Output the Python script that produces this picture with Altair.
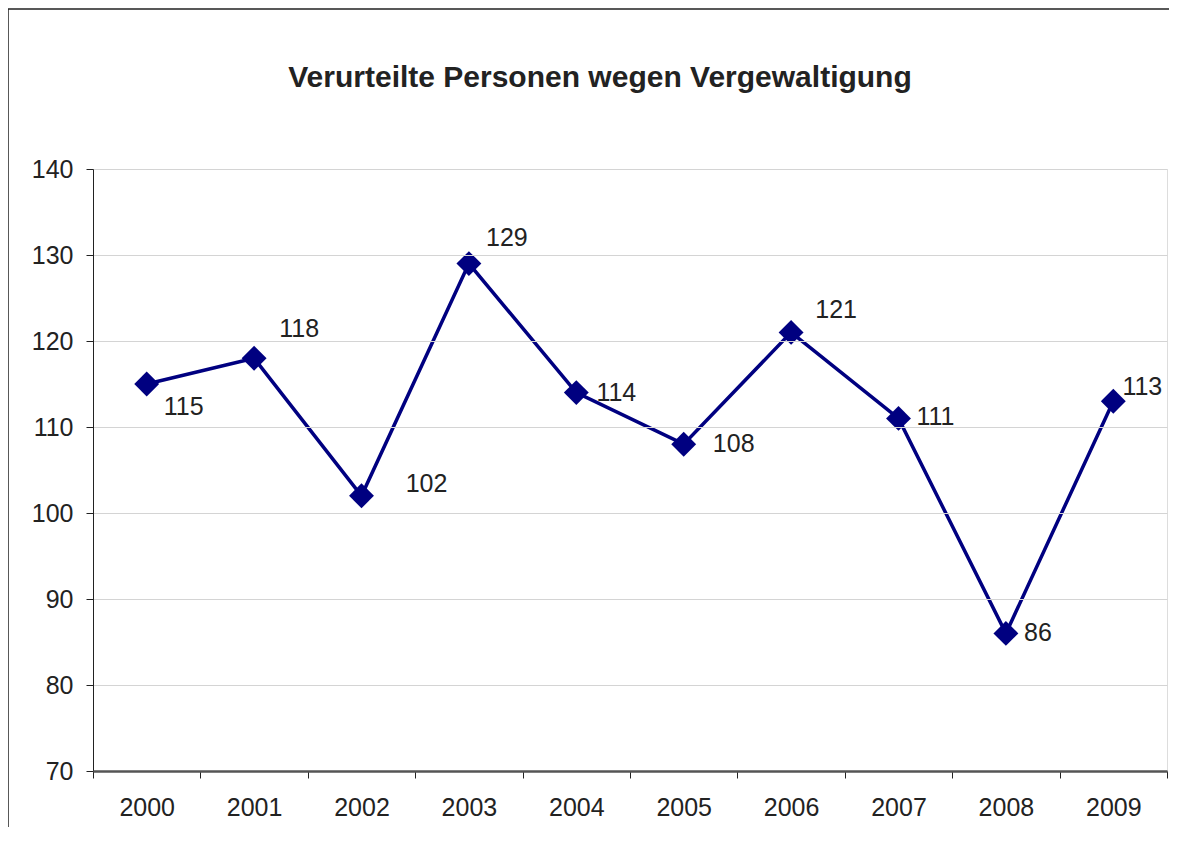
import altair as alt
import pandas as pd

years = ["2000", "2001", "2002", "2003", "2004", "2005", "2006", "2007", "2008", "2009"]
values = [115, 118, 102, 129, 114, 108, 121, 111, 86, 113]
y_ticks = [70, 80, 90, 100, 110, 120, 130, 140]

# label placement offsets (dx, dy) per year, in pixels
label_offsets = {
    "2000": (37, 23), "2001": (45, -29), "2002": (65, -12), "2003": (38, -26),
    "2004": (40, 0), "2005": (50, 0), "2006": (45, -22), "2007": (37, -1),
    "2008": (32, 0), "2009": (29, -14),
}

df = pd.DataFrame({"Jahr": years, "Wert": values})

W, H = 1074, 602
FONT = "Liberation Sans"
NAVY = "#000080"

x_enc = alt.X(
    "Jahr:N",
    sort=years,
    title=None,
    scale=alt.Scale(type="band", paddingInner=0, paddingOuter=0),
    axis=alt.Axis(
        tickBand="extent", labelAngle=0, labelFontSize=25, labelFont=FONT,
        labelColor="#222222", domainColor="#555555", domainWidth=2.5,
        tickColor="#222222", tickSize=7, tickWidth=1, labelPadding=17,
        grid=False, zindex=2,
    ),
)
y_enc = alt.Y(
    "Wert:Q",
    title=None,
    scale=alt.Scale(domain=[70, 140], nice=False, zero=False),
    axis=alt.Axis(
        values=y_ticks, labelFontSize=25, labelFont=FONT, labelColor="#222222",
        domainColor="#222222", domainWidth=1, tickColor="#222222", tickSize=7,
        labelPadding=13, gridColor="#d4d4d4", gridWidth=1, zindex=1,
    ),
)

base = alt.Chart(df)

frame = base.mark_rect(
    fill=None, stroke="#222222", strokeWidth=1.5, clip=False
).encode(
    x=alt.value(-85), x2=alt.value(W + 200), y=alt.value(-160), y2=alt.value(H + 300)
).transform_filter(alt.datum.Jahr == "2000")

line = base.mark_line(color=NAVY, strokeWidth=3.5).encode(x=x_enc, y=y_enc)
points = base.mark_point(
    shape="diamond", filled=True, color=NAVY, size=620, opacity=1
).encode(x=alt.X("Jahr:N", sort=years), y=alt.Y("Wert:Q"))

text_layers = []
for yr in years:
    dx, dy = label_offsets[yr]
    text_layers.append(
        base.transform_filter(alt.datum.Jahr == yr).mark_text(
            font=FONT, fontSize=25, color="#222222", align="center",
            baseline="middle", dx=dx, dy=dy
        ).encode(x=alt.X("Jahr:N", sort=years), y=alt.Y("Wert:Q"), text="Wert:Q")
    )

chart = alt.layer(line, points, *text_layers, frame).properties(
    width=W,
    height=H,
    autosize=alt.AutoSizeParams(type="none"),
    padding={"left": 85, "top": 161, "right": 2, "bottom": 56},
    title=alt.Title(
        "Verurteilte Personen wegen Vergewaltigung",
        font=FONT, fontSize=30, fontWeight="bold", color="#222222",
        anchor="middle", frame="group", offset=-85, dx=-30,
    ),
).configure_view(
    stroke="#a0a0a0", strokeWidth=2
).configure(background="white")

chart.save("out.html", embed_options={"renderer": "svg", "actions": False})
